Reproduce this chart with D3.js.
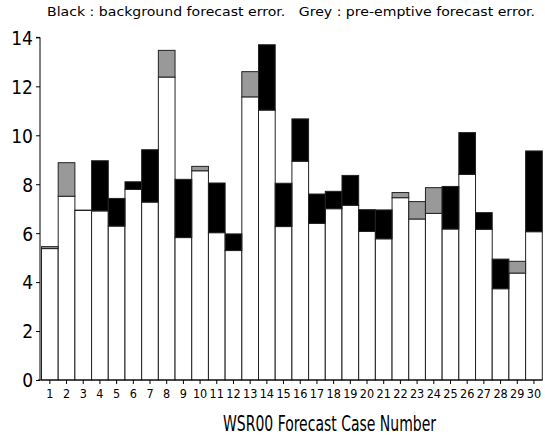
<!DOCTYPE html>
<html>
<head>
<meta charset="utf-8">
<script src="https://cdn.jsdelivr.net/npm/d3@7"></script>
<style>
  html, body { margin: 0; padding: 0; background: #fff; }
  svg { display: block; }
  text { fill: #000; }
</style>
</head>
<body>
<div id="chart"></div>
<script>
// WSR00 cases 1..30
const cases = d3.range(1, 31).map(String);
// Black: background forecast error
const backgroundErr = [5.37, 7.51, 6.94, 8.96, 7.42, 8.10, 9.41, 12.38, 8.20, 8.55,
                       8.05, 5.97, 11.57, 13.70, 8.04, 10.67, 7.60, 7.71, 8.36, 6.96,
                       6.95, 7.45, 6.58, 6.81, 7.91, 10.11, 6.84, 4.94, 4.37, 9.36];
// Grey: pre-emptive forecast error
const preemptiveErr = [5.45, 8.88, 6.93, 6.91, 6.29, 7.79, 7.27, 13.47, 5.82, 8.73,
                       6.02, 5.29, 12.60, 11.03, 6.27, 8.94, 6.40, 7.00, 7.14, 6.07,
                       5.77, 7.66, 7.29, 7.86, 6.17, 8.40, 6.16, 3.73, 4.85, 6.06];
const yTicks = [0, 2, 4, 6, 8, 10, 12, 14];
const legendText = 'Black : background forecast error.   Grey : pre-emptive forecast error.';
const xTitle = 'WSR00 Forecast Case Number';

const W = 545, H = 437;
const svg = d3.select('#chart').append('svg').attr('width', W).attr('height', H);

const x = d3.scaleBand().domain(cases).range([41.5, 542.3]).padding(0);
const y = d3.scaleLinear().domain([0, 14]).range([380, 37.4]);

const font = '"Liberation Sans Narrow", "DejaVu Sans Condensed", "Liberation Sans", sans-serif';

// bars: white up to the smaller error, coloured segment up to the larger
const rows = cases.map((c, i) => {
  const bg = backgroundErr[i], pe = preemptiveErr[i];
  return { c, lo: Math.min(bg, pe), hi: Math.max(bg, pe), col: bg >= pe ? '#000' : '#999' };
});

const g = svg.append('g');
g.selectAll('rect.lo').data(rows).enter().append('rect')
  .attr('class', 'lo')
  .attr('x', d => x(d.c)).attr('width', x.bandwidth())
  .attr('y', d => y(d.lo)).attr('height', d => y(0) - y(d.lo))
  .attr('fill', '#fff').attr('stroke', '#222').attr('stroke-width', 1);

g.selectAll('rect.hi').data(rows).enter().append('rect')
  .attr('class', 'hi')
  .attr('x', d => x(d.c)).attr('width', x.bandwidth())
  .attr('y', d => y(d.hi)).attr('height', d => y(d.lo) - y(d.hi))
  .attr('fill', d => d.col).attr('stroke', '#222').attr('stroke-width', 1);

// y axis
const yAx = svg.append('g').attr('transform', 'translate(40,0)')
  .call(d3.axisLeft(y).tickValues(yTicks).tickSize(4).tickPadding(6).tickFormat(d3.format('d')));
yAx.select('.domain').attr('stroke', '#000').attr('d', `M-4,${y(14)}H0V${y(0)}`);
yAx.selectAll('.tick line').attr('stroke', '#000');
yAx.selectAll('.tick text').attr('font-family', font).attr('font-size', 19)
  .attr('x', -7).attr('dy', '0.36em');

// x axis
const xAx = svg.append('g').attr('transform', 'translate(0,380)')
  .call(d3.axisBottom(x).tickSize(4).tickPadding(5));
xAx.select('.domain').attr('stroke', '#000').attr('d', 'M38,0H542.3');
xAx.selectAll('.tick line').attr('stroke', '#000');
xAx.selectAll('.tick text').attr('font-family', font).attr('font-size', 12.5);

// legend text on top
svg.append('text').attr('x', 47).attr('y', 16)
  .attr('font-family', '"DejaVu Sans", sans-serif').attr('font-size', 11.5)
  .attr('textLength', 488).attr('lengthAdjust', 'spacingAndGlyphs')
  .style('white-space', 'pre').text(legendText);

// x title
svg.append('text').attr('x', 329.5).attr('y', 431).attr('text-anchor', 'middle')
  .attr('font-family', font).attr('font-size', 21)
  .attr('textLength', 213).attr('lengthAdjust', 'spacingAndGlyphs')
  .text(xTitle);
</script>
</body>
</html>
